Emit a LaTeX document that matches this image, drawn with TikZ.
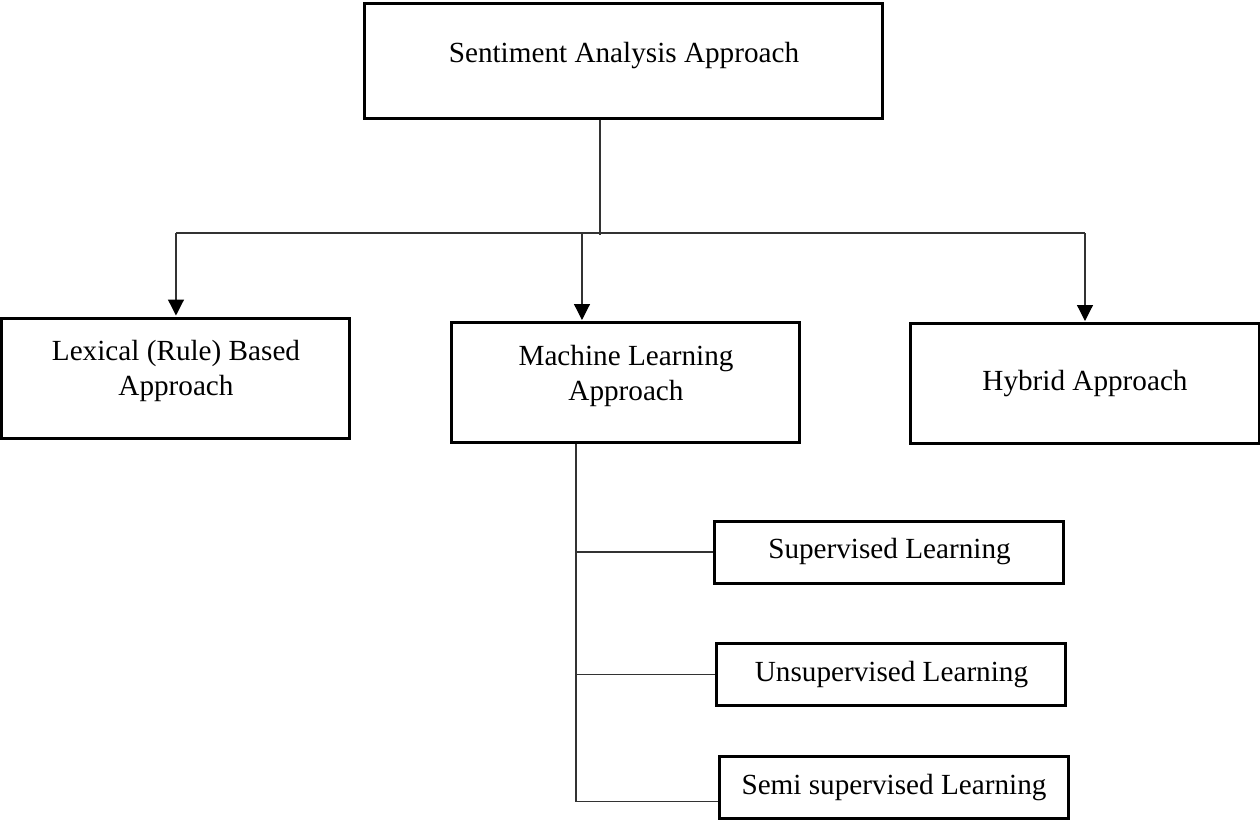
\documentclass[tikz,border=0pt]{standalone}
\usepackage{fontspec}
\setmainfont{Liberation Serif}
\usetikzlibrary{arrows.meta}
\tikzstyle{topbox} = [rectangle, minimum width=259pt, minimum height=57.5pt, text centered, text depth=8.5pt, draw=black, line width=1.5pt]
\tikzstyle{approach} = [rectangle, minimum width=174pt, minimum height=60pt, align=center, draw=black, line width=1.5pt]
\tikzstyle{learning} = [rectangle, minimum width=174.5pt, minimum height=31pt, text centered, draw=black, line width=1.5pt]
\tikzstyle{link} = [line width=0.6pt, draw=black!80]
\tikzstyle{arrow} = [line width=0.6pt, draw=black!80, -{Triangle[width=8pt,length=8pt,color=black]}, shorten >=0.5pt]

\begin{document}
\begin{tikzpicture}[node distance=160pt, font=\fontsize{14.6}{17.5}\selectfont]
\useasboundingbox (-312pt,30.25pt) rectangle (318pt,-379.75pt);
\node (sa) [topbox] {Sentiment Analysis Approach};
\node (lex) [approach, below of=sa, xshift=-224pt, yshift=1.25pt, text depth=10pt] {Lexical (Rule) Based\\Approach};
\node (ml) [approach, below of=sa, xshift=1pt, yshift=-1pt, text depth=10pt] {Machine Learning\\Approach};
\node (hyb) [approach, below of=sa, xshift=230.5pt, yshift=-1.5pt] {Hybrid Approach};
\node (sup) [learning, below of=ml, xshift=131.75pt, yshift=75.25pt] {Supervised Learning};
\node (unsup) [learning, below of=sup, xshift=1pt, yshift=98.75pt] {Unsupervised Learning};
\node (semi) [learning, below of=unsup, xshift=1.25pt, yshift=103.5pt] {Semi supervised Learning};

% bus under the top box
\coordinate (bus) at (0,-86.25pt);
\coordinate (stem) at ([xshift=-12pt]sa.south);
\coordinate (mltop) at ([xshift=-22pt]ml.north);
\draw [link] (stem) -- ([yshift=-1pt]stem |- bus);
\draw [link] (lex.north |- bus) -- (hyb.north |- bus);
\draw [arrow] (lex.north |- bus) -- (lex.north);
\draw [arrow] (mltop |- bus) -- (mltop);
\draw [arrow] (hyb.north |- bus) -- (hyb.north);

% learning types
\coordinate (trunk) at ([xshift=-25pt]ml.south);
\coordinate (semiin) at ([yshift=-7pt]semi.west);
\draw [link] (trunk) -- (trunk |- semiin);
\draw [link] (trunk |- sup.west) -- (sup.west);
\draw [link] (trunk |- unsup.west) -- (unsup.west);
\draw [link] (trunk |- semiin) -- (semiin);
\end{tikzpicture}
\end{document}
